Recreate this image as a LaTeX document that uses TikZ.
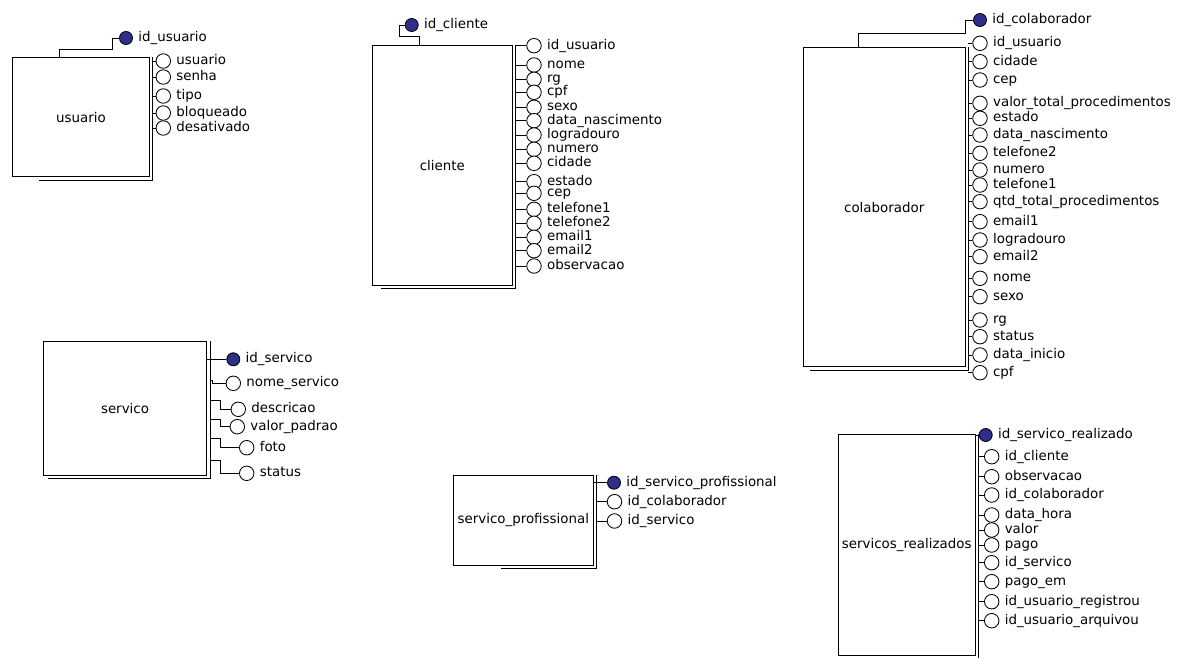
\documentclass[tikz,border=0pt]{standalone}
\usepackage{fontspec}
\setmainfont{DejaVu Sans}
\usepackage{xcolor}
\usepackage{tikz}
\usetikzlibrary{positioning}

\definecolor{chaveazul}{RGB}{46,46,140}

\begin{document}
\begin{tikzpicture}[
      x=1pt, y=-1pt, line width=0.85pt,
      font=\fontsize{13.4pt}{16pt}\selectfont,
      tabela/.style={rectangle, draw, fill=white, inner sep=1pt},
      atrib/.style={circle, draw, fill=white, minimum size=14.5pt, inner sep=0pt},
      chave/.style={circle, draw, fill=chaveazul, minimum size=13pt, inner sep=0pt},
      rotulo/.style={inner sep=1pt, text height=9.5pt, text depth=2.5pt}
    ]
      \useasboundingbox (0,0) rectangle (1183,657);

      % usuario
      \node[tabela, minimum width=136.6pt, minimum height=119pt] (usuario) at (81,117.2) {usuario};
      \draw ([xshift=27pt,yshift=-3pt]usuario.south west) -| ([xshift=3pt]usuario.north east);
      \node[chave] (uk) at (126,38) {};
      \node[rotulo, right=4pt of uk] (ukt) {id\_usuario};
      \draw ([xshift=-22pt]usuario.north) |- (112,49) |- (uk);
      \foreach \y/\t [count=\i] in {61/usuario, 77/senha, 96/tipo, 113/bloqueado, 128/desativado}{
        \node[atrib] (u\i) at (163.3,\y) {};
        \node[rotulo, right=4pt of u\i] (ut\i) {\t};
        \draw ([xshift=3pt]usuario.east |- u\i) -- (u\i);
      }

      % cliente
      \node[tabela, minimum width=139.3pt, minimum height=239.3pt] (cliente) at (442.3,165.4) {cliente};
      \draw ([xshift=9pt,yshift=-3pt]cliente.south west) -| ([xshift=3pt]cliente.north east);
      \node[chave] (ck) at (411.7,25) {};
      \node[rotulo, right=4pt of ck] (ckt) {id\_cliente};
      \draw ([xshift=-23pt]cliente.north) |- (399,36) |- (ck);
      \foreach \y/\t [count=\i] in {45.7/id\_usuario, 65/nome, 79.3/rg, 92.3/cpf, 107.3/sexo,
          120.7/data\_nascimento, 135/logradouro, 149.3/numero, 163.3/cidade, 181.7/estado,
          193.3/cep, 209.3/telefone1, 223.3/telefone2, 237.3/email1, 250.7/email2, 266/observacao}{
        \node[atrib] (c\i) at (534,\y) {};
        \node[rotulo, right=4pt of c\i] (ct\i) {\t};
        \draw ([xshift=3pt]cliente.east |- c\i) -- (c\i);
      }

      % colaborador
      \node[tabela, minimum width=161.7pt, minimum height=319.4pt] (colab) at (884.2,207) {colaborador};
      \draw ([xshift=7pt,yshift=-3pt]colab.south west) -| ([xshift=3pt]colab.north east);
      \node[chave] (kk) at (980,20) {};
      \node[rotulo, right=4pt of kk] (kkt) {id\_colaborador};
      \draw ([xshift=-26pt]colab.north) |- (965,33.3) |- (kk);
      \foreach \y/\t [count=\i] in {43.3/id\_usuario, 61.7/cidade, 80/cep,
          103.3/valor\_total\_procedimentos, 118.3/estado, 135/data\_nascimento, 153.3/telefone2,
          170/numero, 185/telefone1, 201.7/qtd\_total\_procedimentos, 221.7/email1,
          240/logradouro, 256.7/email2, 278.3/nome, 296.7/sexo, 320/rg, 336.7/status,
          355/data\_inicio, 372.7/cpf}{
        \node[atrib] (k\i) at (980,\y) {};
        \node[rotulo, right=4pt of k\i] (kt\i) {\t};
        \draw ([xshift=3pt]colab.east |- k\i) -- (k\i);
      }

      % servico
      \node[tabela, minimum width=163.4pt, minimum height=133.3pt] (servico) at (125,408.3) {servico};
      \draw ([xshift=5pt,yshift=-3pt]servico.south west) -| ([xshift=3pt]servico.north east);
      \node[chave] (sk) at (233.3,359.3) {};
      \node[rotulo, right=4pt of sk] (skt) {id\_servico};
      \draw (servico.east |- sk) -- (sk);
      \foreach \x/\y/\b/\s/\t [count=\i] in {233.3/383.3/212.7/380/nome\_servico,
          238.3/409.3/220/400/descricao, 237.3/426.7/220/419/valor\_padrao,
          246.7/447.7/220/438.3/foto, 246.7/473.3/220/460/status}{
        \node[atrib] (s\i) at (\x,\y) {};
        \node[rotulo, right=4pt of s\i] (st\i) {\t};
        \coordinate (sb\i) at (\b,\s);
        \draw ([xshift=3pt]servico.east |- sb\i) -- (sb\i) |- (s\i);
      }

      % servico_profissional
      \node[tabela, minimum width=140pt, minimum height=90pt] (servprof) at (523.3,520) {servico\_profissional};
      \draw ([xshift=48pt,yshift=-3pt]servprof.south west) -| ([xshift=3pt]servprof.north east);
      \node[chave] (pk) at (614,482.7) {};
      \node[rotulo, right=4pt of pk] (pkt) {id\_servico\_profissional};
      \draw (servprof.east |- pk) -- (pk);
      \foreach \y/\t [count=\i] in {501.7/id\_colaborador, 521/id\_servico}{
        \node[atrib] (p\i) at (614.5,\y) {};
        \node[rotulo, right=4pt of p\i] (pt\i) {\t};
        \draw ([xshift=3pt]servprof.east |- p\i) -- (p\i);
      }

      % servicos_realizados
      \node[tabela, minimum width=136.7pt, minimum height=221pt] (servreal) at (906.7,544.5) {servicos\_realizados};
      \draw ([xshift=20pt,yshift=-3pt]servreal.south west) -| ([xshift=3pt]servreal.north east);
      \node[chave] (rk) at (985.7,435) {};
      \node[rotulo, right=4pt of rk] (rkt) {id\_servico\_realizado};
      \draw (servreal.east |- rk) -- (rk);
      \foreach \y/\t [count=\i] in {456.7/id\_cliente, 476.7/observacao, 495/id\_colaborador,
          515/data\_hora, 530/valor, 545/pago, 562.7/id\_servico, 581.7/pago\_em,
          601.7/id\_usuario\_registrou, 620.7/id\_usuario\_arquivou}{
        \node[atrib] (r\i) at (991.7,\y) {};
        \node[rotulo, right=4pt of r\i] (rt\i) {\t};
        \draw ([xshift=3pt]servreal.east |- r\i) -- (r\i);
      }
    \end{tikzpicture}
\end{document}
